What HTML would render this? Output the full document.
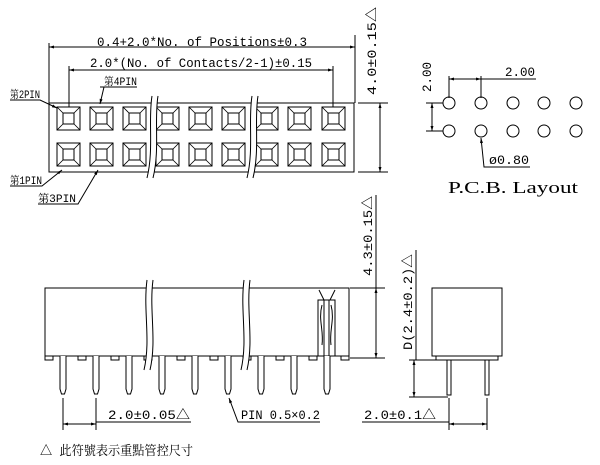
<!DOCTYPE html>
<html><head><meta charset="utf-8"><style>
html,body{margin:0;padding:0;background:#fff;}
svg{display:block;}
text{font-family:"Liberation Mono","Noto Serif CJK SC",monospace;fill:#000;}
</style></head><body>
<svg width="600" height="465" viewBox="0 0 600 465" xmlns="http://www.w3.org/2000/svg">
<defs>
<marker id="a" viewBox="0 0 10 10" refX="10" refY="5" markerWidth="7" markerHeight="5" orient="auto-start-reverse"><path d="M0,2 L10,5 L0,8 z" fill="#000"/></marker>
<g id="sq"><rect x="0" y="0" width="23" height="23" fill="none" stroke="#000" stroke-width="1"/><rect x="6" y="6" width="11" height="11" fill="none" stroke="#000" stroke-width="1"/><path d="M0,0L6,6M23,0L17,6M0,23L6,17M23,23L17,17" stroke="#000" stroke-width="0.8"/></g>
<g id="pin"><path d="M-3,0 V33 L-1.5,38 H1.5 L3,33 V0" fill="#fff" stroke="#000" stroke-width="1"/></g>
</defs>
<g stroke="#000" stroke-width="1" fill="none">
<rect x="49" y="103" width="305" height="69"/>
<line x1="49" y1="43" x2="49" y2="103"/>
<line x1="355" y1="35" x2="355" y2="103"/>
<line x1="49" y1="47" x2="355" y2="47" marker-start="url(#a)" marker-end="url(#a)"/>
<line x1="69" y1="66" x2="69" y2="107"/>
<line x1="333" y1="66" x2="333" y2="107"/>
<line x1="69" y1="70" x2="333" y2="70" marker-start="url(#a)" marker-end="url(#a)"/>
<line x1="358" y1="103" x2="388" y2="103"/>
<line x1="358" y1="172" x2="388" y2="172"/>
<line x1="380" y1="103" x2="380" y2="172" marker-start="url(#a)" marker-end="url(#a)"/>
<path d="M10,100 H40 L57,108" marker-end="url(#a)"/>
<path d="M104,87 L100,104" marker-end="url(#a)"/>
<path d="M100,87 H137"/>
<path d="M10,186 H42 L62,170" marker-end="url(#a)"/>
<path d="M38,204 H78 L98,170" marker-end="url(#a)"/>
</g>
<g>
<use href="#sq" x="57" y="107"/><use href="#sq" x="90" y="107"/><use href="#sq" x="123" y="107"/><use href="#sq" x="156" y="107"/><use href="#sq" x="189" y="107"/><use href="#sq" x="222" y="107"/><use href="#sq" x="255" y="107"/><use href="#sq" x="288" y="107"/><use href="#sq" x="322" y="107"/>
<use href="#sq" x="57" y="143"/><use href="#sq" x="90" y="143"/><use href="#sq" x="123" y="143"/><use href="#sq" x="156" y="143"/><use href="#sq" x="189" y="143"/><use href="#sq" x="222" y="143"/><use href="#sq" x="255" y="143"/><use href="#sq" x="288" y="143"/><use href="#sq" x="322" y="143"/>
</g>
<g stroke="#000" stroke-width="1">
<path d="M152,96 C148,120 154,150 147,178 L153,178 C160,150 154,120 158,96 Z" fill="#fff" stroke="none"/>
<path d="M152,96 C148,120 154,150 147,178 M158,96 C154,120 160,150 153,178" fill="none"/>
<path d="M252,96 C248,120 254,150 247,178 L253,178 C260,150 254,120 258,96 Z" fill="#fff" stroke="none"/>
<path d="M252,96 C248,120 254,150 247,178 M258,96 C254,120 260,150 253,178" fill="none"/>
</g>
<text x="97" y="46" font-size="13" textLength="210" lengthAdjust="spacingAndGlyphs">0.4+2.0*No. of Positions±0.3</text>
<text x="90" y="67" font-size="13" textLength="222" lengthAdjust="spacingAndGlyphs">2.0*(No. of Contacts/2-1)±0.15</text>
<text x="10" y="98" font-size="11" textLength="30" lengthAdjust="spacingAndGlyphs">第2PIN</text>
<text x="104" y="85" font-size="11" textLength="33" lengthAdjust="spacingAndGlyphs">第4PIN</text>
<text x="10" y="184" font-size="11" textLength="32" lengthAdjust="spacingAndGlyphs">第1PIN</text>
<text x="38" y="202" font-size="11" textLength="38" lengthAdjust="spacingAndGlyphs">第3PIN</text>
<text transform="translate(376,95) rotate(-90)" font-size="13" textLength="88" lengthAdjust="spacingAndGlyphs">4.0±0.15△</text>

<g stroke="#000" stroke-width="1" fill="none">
<circle cx="449" cy="103" r="6"/><circle cx="481" cy="103" r="6"/><circle cx="513" cy="103" r="6"/><circle cx="544" cy="103" r="6"/><circle cx="576" cy="103" r="6"/>
<circle cx="449" cy="131" r="6"/><circle cx="481" cy="131" r="6"/><circle cx="513" cy="131" r="6"/><circle cx="544" cy="131" r="6"/><circle cx="576" cy="131" r="6"/>
<line x1="449" y1="76" x2="449" y2="98"/><line x1="481" y1="76" x2="481" y2="98"/>
<line x1="449" y1="79" x2="481" y2="79" marker-start="url(#a)" marker-end="url(#a)"/>
<line x1="481" y1="79" x2="536" y2="79"/>
<line x1="426" y1="103" x2="443" y2="103"/><line x1="426" y1="131" x2="443" y2="131"/>
<line x1="432" y1="103" x2="432" y2="131" marker-start="url(#a)" marker-end="url(#a)"/>
<path d="M530,167 H484 L481,138" marker-end="url(#a)"/>
</g>
<text x="505" y="76" font-size="13" textLength="30" lengthAdjust="spacingAndGlyphs">2.00</text>
<text transform="translate(431,92) rotate(-90)" font-size="13" textLength="30" lengthAdjust="spacingAndGlyphs">2.00</text>
<text x="489" y="164" font-size="13" textLength="40" lengthAdjust="spacingAndGlyphs">ø0.80</text>
<text x="448" y="193" font-size="17" textLength="130" lengthAdjust="spacingAndGlyphs" style="font-family:'Liberation Serif',serif">P.C.B.  Layout</text>

<g stroke="#000" stroke-width="1" fill="none">
<rect x="45" y="288" width="304" height="68"/>
<line x1="350" y1="288" x2="385" y2="288"/>
<line x1="350" y1="358" x2="385" y2="358"/>
<line x1="376" y1="195" x2="376" y2="288"/>
<line x1="376" y1="288" x2="376" y2="358" marker-start="url(#a)" marker-end="url(#a)"/>
<path d="M319,290 L324,300 H330 L335,290"/>
<rect x="318" y="300" width="17" height="56"/>
<path d="M322,305 C318,320 324,330 322,345 M331,305 C335,320 329,330 331,345 M324,300 V356 M329,300 V356"/>
<g fill="#fff">
<rect x="45" y="356" width="8" height="4"/><rect x="78" y="356" width="8" height="4"/><rect x="111" y="356" width="8" height="4"/><rect x="144" y="356" width="8" height="4"/><rect x="177" y="356" width="8" height="4"/><rect x="210" y="356" width="8" height="4"/><rect x="243" y="356" width="8" height="4"/><rect x="276" y="356" width="8" height="4"/><rect x="309" y="356" width="8" height="4"/><rect x="341" y="356" width="8" height="4"/>
</g>
</g>
<g><use href="#pin" x="63" y="356"/><use href="#pin" x="96" y="356"/><use href="#pin" x="129" y="356"/><use href="#pin" x="162" y="356"/><use href="#pin" x="195" y="356"/><use href="#pin" x="228" y="356"/><use href="#pin" x="261" y="356"/><use href="#pin" x="294" y="356"/><use href="#pin" x="327" y="356"/></g>
<g stroke="#000" stroke-width="1">
<path d="M147,280 C143,310 151,340 144,370 L150,370 C157,340 149,310 153,280 Z" fill="#fff" stroke="none"/>
<path d="M147,280 C143,310 151,340 144,370 M153,280 C149,310 157,340 150,370" fill="none"/>
<path d="M244,280 C240,310 248,340 241,370 L247,370 C254,340 246,310 250,280 Z" fill="#fff" stroke="none"/>
<path d="M244,280 C240,310 248,340 241,370 M250,280 C246,310 254,340 247,370" fill="none"/>
</g>
<g stroke="#000" stroke-width="1" fill="none">
<line x1="63" y1="398" x2="63" y2="430"/><line x1="96" y1="398" x2="96" y2="430"/>
<line x1="63" y1="424" x2="96" y2="424" marker-start="url(#a)" marker-end="url(#a)"/>
<line x1="96" y1="422" x2="191" y2="422"/>
<path d="M320,422 H238 L229,398" marker-end="url(#a)"/>
</g>
<text x="108" y="419" font-size="13" textLength="82" lengthAdjust="spacingAndGlyphs">2.0±0.05△</text>
<text x="241" y="419" font-size="13" textLength="79" lengthAdjust="spacingAndGlyphs">PIN 0.5×0.2</text>
<text x="40" y="455" font-size="13" textLength="153" lengthAdjust="spacingAndGlyphs">△ 此符號表示重點管控尺寸</text>
<text transform="translate(372,276) rotate(-90)" font-size="13" textLength="80" lengthAdjust="spacingAndGlyphs">4.3±0.15△</text>

<g stroke="#000" stroke-width="1" fill="none">
<rect x="432" y="288" width="70" height="68"/>
<rect x="436" y="356" width="62" height="4"/>
<path d="M447,360 V395 H451 V360 M485,360 V395 H489 V360"/>
<line x1="416" y1="250" x2="416" y2="360"/>
<line x1="409" y1="360" x2="436" y2="360"/>
<line x1="409" y1="397" x2="448" y2="397"/>
<line x1="414" y1="360" x2="414" y2="397" marker-start="url(#a)" marker-end="url(#a)"/>
<line x1="449" y1="398" x2="449" y2="430"/><line x1="487" y1="398" x2="487" y2="430"/>
<line x1="449" y1="424" x2="487" y2="424" marker-start="url(#a)" marker-end="url(#a)"/>
<line x1="362" y1="422" x2="449" y2="422"/>
</g>
<text transform="translate(412,350) rotate(-90)" font-size="13" textLength="96" lengthAdjust="spacingAndGlyphs">D(2.4±0.2)△</text>
<text x="364" y="419" font-size="13" textLength="72" lengthAdjust="spacingAndGlyphs">2.0±0.1△</text>
</svg>
</body></html>
